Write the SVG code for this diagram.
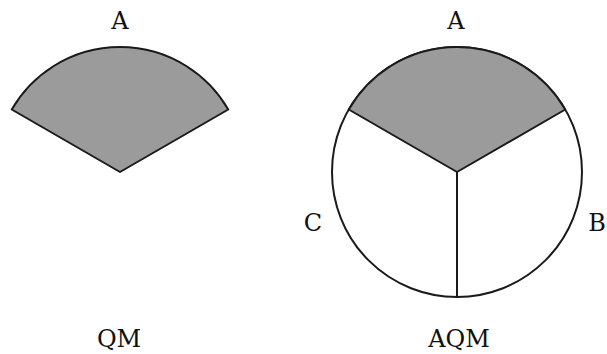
<svg xmlns="http://www.w3.org/2000/svg" width="607" height="354" viewBox="0 0 607 354">
<style>
.s{stroke:#1a1a1a;stroke-width:2;stroke-linejoin:round}
.g{fill:#9b9b9b}
.w{fill:#fff}
text{font-family:"DejaVu Serif","Liberation Serif",serif;font-size:24px;fill:#111;text-anchor:middle}
</style>
<rect width="607" height="354" fill="#fff"/>
<g id="qm">
<path class="s g" d="M120,172 L11.75,109.5 A125,125 0 0 1 228.25,109.5 Z"/>
<text x="120" y="29">A</text>
<text x="119" y="347">QM</text>
</g>
<g id="aqm">
<circle class="s w" cx="457" cy="172" r="125"/>
<path class="s g" d="M457,172 L348.75,109.5 A125,125 0 0 1 565.25,109.5 Z"/>
<g id="connectors">
<line class="s" x1="457" y1="172" x2="457" y2="297"/>
</g>
<text x="456" y="29">A</text>
<text x="313" y="231">C</text>
<text x="597" y="231">B</text>
<text x="459" y="347">AQM</text>
</g>
</svg>
